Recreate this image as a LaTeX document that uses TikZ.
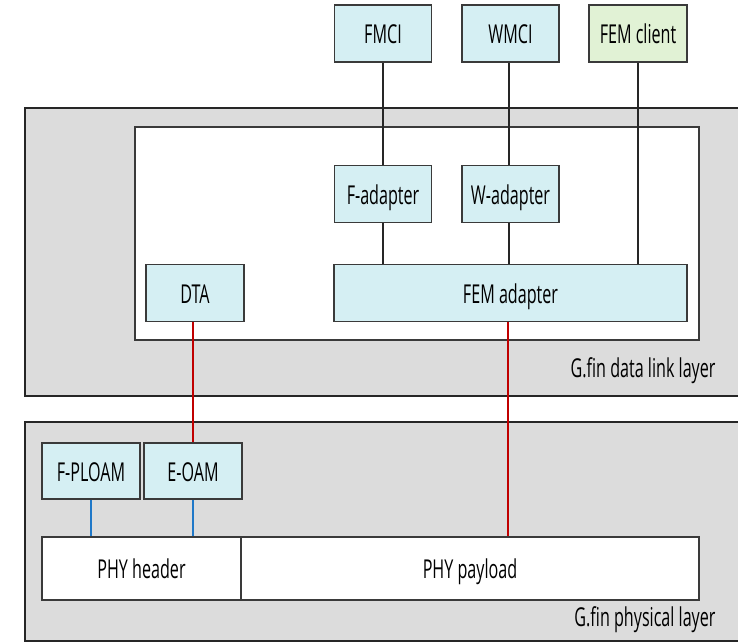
\documentclass[tikz,border=0pt]{standalone}
\usepackage{fontspec}
\setmainfont{Open Sans}[FakeStretch=0.62]
\definecolor{boxcyan}{HTML}{D5EFF3}
\definecolor{boxgreen}{HTML}{E1F2D5}
\definecolor{layergray}{HTML}{DCDCDC}
\definecolor{edgegray}{HTML}{3A3A3A}
\definecolor{linkred}{HTML}{C00000}
\definecolor{linkblue}{HTML}{1F78C8}
\tikzset{
  txt/.style={font=\fontsize{26}{28}\selectfont},
  blk/.style={draw=edgegray, line width=1.4pt, fill=boxcyan, inner sep=0pt,
    minimum height=57pt, txt, text height=22pt, text depth=2pt},
  clientblk/.style={blk, fill=boxgreen},
  phyblk/.style={blk, fill=white, minimum height=63pt},
  wire/.style={line width=1.8pt, draw=black!85},
  redwire/.style={line width=1.8pt, draw=linkred},
  bluewire/.style={line width=1.8pt, draw=linkblue},
  layer/.style={fill=layergray},
  layeredge/.style={line width=1.8pt, draw=black!85},
  layerlabel/.style={anchor=east, txt}
}
\begin{document}
\begin{tikzpicture}[x=1pt, y=-1pt]
\useasboundingbox (0,0) rectangle (738,643);
% data link layer band
\fill[layer] (25,108) rectangle (738,396);
\draw[layeredge] (738,108) -- (25,108) -- (25,396) -- (738,396);
\node[layerlabel] (dllabel) at (719,371) {G.fin data link layer};
% inner adapter area
\draw[fill=white, draw=edgegray, line width=1.4pt] (135,127) rectangle (699,340);
% physical layer band
\fill[layer] (25,422) rectangle (738,641);
\draw[layeredge] (738,422) -- (25,422) -- (25,641) -- (738,641);
\node[layerlabel] (phylabel) at (719,620) {G.fin physical layer};

% client blocks
\node[blk, minimum width=97pt] (fmci) at (383,33.5) {FMCI};
\node[blk, minimum width=97pt] (wmci) at (510.5,33.5) {WMCI};
\node[clientblk, minimum width=98pt] (femclient) at (638,33.5) {FEM client};

% adapters
\node[blk, minimum width=97pt] (fadapt) at (383,194) {F-adapter};
\node[blk, minimum width=97pt] (wadapt) at (510.5,194) {W-adapter};
\node[blk, minimum width=98pt] (dta) at (195,293) {DTA};
\node[blk, minimum width=353pt] (femadapt) at (510.5,293) {FEM adapter};

% physical layer blocks
\node[blk, minimum width=98pt, minimum height=56pt] (ploam) at (91,471) {F-PLOAM};
\node[blk, minimum width=98pt, minimum height=56pt] (eoam) at (193,471) {E-OAM};
\node[phyblk, minimum width=199pt] (phyhdr) at (141.5,568.5) {PHY header};
\node[phyblk, minimum width=458pt] (phypay) at (470,568.5) {PHY payload};

% attachment points slightly off the block centres
\coordinate (wtop) at ([xshift=-1.5pt]wmci.south);
\coordinate (wbot) at ([xshift=-1.5pt]wadapt.south);
\coordinate (femdown) at ([xshift=-2.5pt]femadapt.south);

% connectors
\draw[wire] (fmci.south) -- (fadapt.north);
\draw[wire] (wtop) -- (wtop |- wadapt.north);
\draw[wire] (fadapt.south) -- (femadapt.north -| fadapt.south);
\draw[wire] (wbot) -- (femadapt.north -| wbot);
\draw[wire] (femclient.south) -- (femadapt.north -| femclient.south);
\draw[redwire] (eoam.north) -- (dta.south -| eoam.north);
\draw[redwire] (femdown) -- (phypay.north -| femdown);
\draw[bluewire] (ploam.south) -- (phyhdr.north -| ploam.south);
\draw[bluewire] (eoam.south) -- (phyhdr.north -| eoam.south);
\end{tikzpicture}
\end{document}
